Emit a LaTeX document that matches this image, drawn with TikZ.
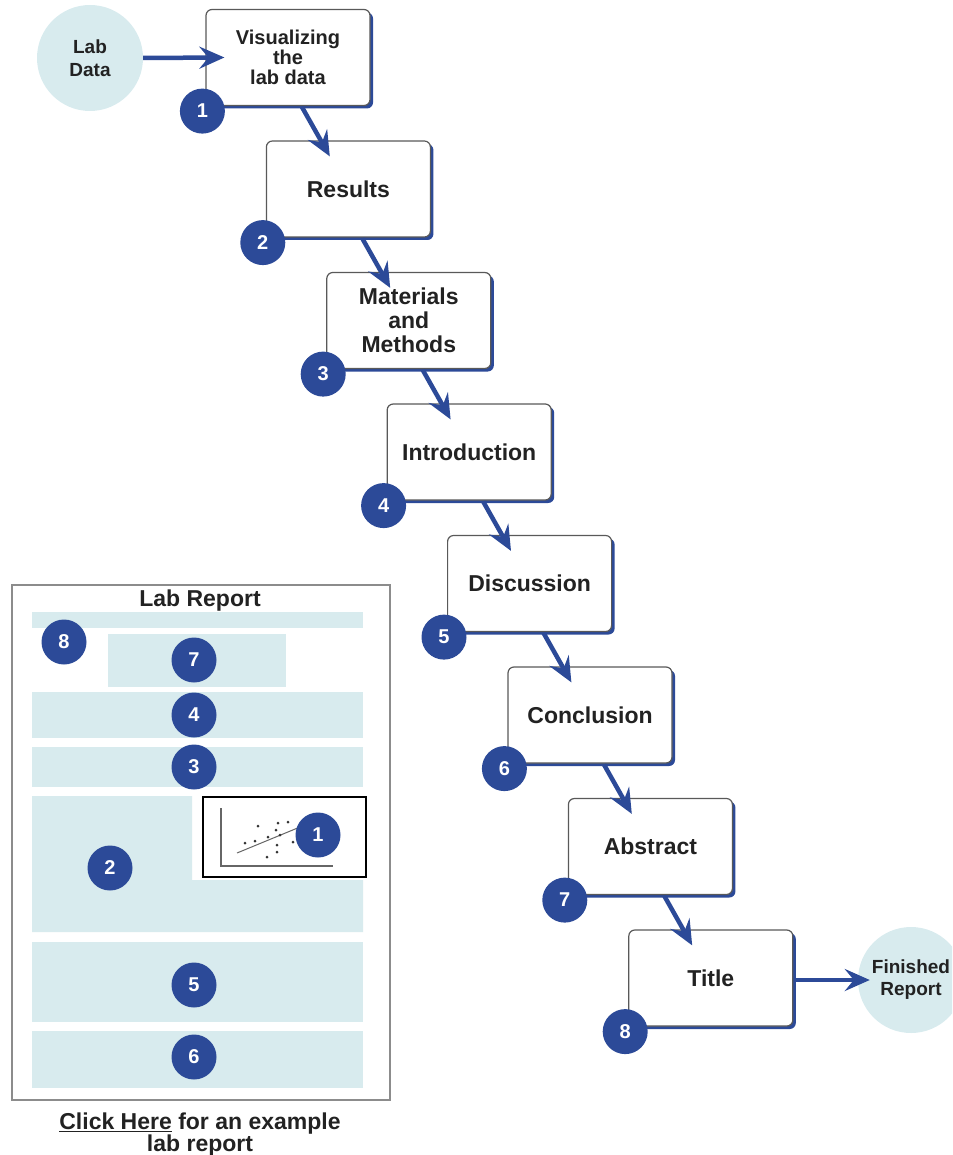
\documentclass[tikz,border=0pt]{standalone}
\usepackage{fontspec}
\setmainfont{Liberation Sans}
\usetikzlibrary{arrows.meta,shadows}
\definecolor{dblue}{HTML}{2C4A98}
\definecolor{lblue}{HTML}{D8EBEE}
\definecolor{ink}{HTML}{222222}
\begin{document}
\begin{tikzpicture}[x=1pt,y=-1pt,
  stepbox/.style={draw=black!65, line width=1.2pt, fill=white, rounded corners=6pt,
    minimum width=164pt, minimum height=96pt, inner sep=0pt, align=center, text=ink,
    font=\fontsize{23}{24}\selectfont\bfseries,
    drop shadow={shadow xshift=3pt, shadow yshift=-3pt, fill=dblue, opacity=1}},
  num/.style={circle, fill=dblue, minimum size=45pt, inner sep=0pt, text=white,
    font=\fontsize{20}{20}\selectfont\bfseries},
  endcircle/.style={circle, fill=lblue, minimum size=106pt, inner sep=0pt, align=center,
    text=ink},
  flow/.style={draw=dblue, line width=4.5pt, -{Stealth[length=25pt,width=22pt,inset=9pt]}},
  block/.style={fill=lblue},
  dot/.style={fill=black!80, inner sep=0pt, minimum size=3pt, circle}
]
\useasboundingbox (0,0) rectangle (952,1155);
\clip (0,0) rectangle (952,1155);

% start / end circles
\node[endcircle, font=\fontsize{19}{23}\selectfont\bfseries] (labdata) at (90,58) {Lab\\Data};
\node[endcircle, font=\fontsize{19}{22}\selectfont\bfseries] (finished) at (911,980) {Finished\\Report};

% step boxes
\node[stepbox, font=\fontsize{20}{20}\selectfont\bfseries] (b1) at (288,57.5) {Visualizing\\the\\lab data};
\node[stepbox] (b2) at (348.4,189) {Results};
\node[stepbox] (b3) at (408.8,320.5) {Materials\\and\\Methods};
\node[stepbox] (b4) at (469.2,452) {Introduction};
\node[stepbox] (b5) at (529.6,583.5) {Discussion};
\node[stepbox] (b6) at (590,715) {Conclusion};
\node[stepbox] (b7) at (650.4,846.5) {Abstract};
\node[stepbox] (b8) at (710.8,978) {Title};

% connectors
\draw[flow] (labdata.east) -- ([xshift=19pt]b1.west);
\draw[flow] ([xshift=14pt,yshift=-1pt]b1.south) -- ([xshift=64pt,yshift=-16pt]b2.north west);
\draw[flow] ([xshift=14pt,yshift=-1pt]b2.south) -- ([xshift=64pt,yshift=-16pt]b3.north west);
\draw[flow] ([xshift=14pt,yshift=-1pt]b3.south) -- ([xshift=64pt,yshift=-16pt]b4.north west);
\draw[flow] ([xshift=14pt,yshift=-1pt]b4.south) -- ([xshift=64pt,yshift=-16pt]b5.north west);
\draw[flow] ([xshift=14pt,yshift=-1pt]b5.south) -- ([xshift=64pt,yshift=-16pt]b6.north west);
\draw[flow] ([xshift=14pt,yshift=-1pt]b6.south) -- ([xshift=64pt,yshift=-16pt]b7.north west);
\draw[flow] ([xshift=14pt,yshift=-1pt]b7.south) -- ([xshift=64pt,yshift=-16pt]b8.north west);
\draw[flow] ([xshift=3pt,yshift=-2pt]b8.east) -- ([xshift=12pt]finished.west);

% step numbers
\node[num] (n1) at ([shift={(-3,5)}]b1.south west) {1};
\node[num] (n2) at ([shift={(-3,5)}]b2.south west) {2};
\node[num] (n3) at ([shift={(-3,5)}]b3.south west) {3};
\node[num] (n4) at ([shift={(-3,5)}]b4.south west) {4};
\node[num] (n5) at ([shift={(-3,5)}]b5.south west) {5};
\node[num] (n6) at ([shift={(-3,5)}]b6.south west) {6};
\node[num] (n7) at ([shift={(-3,5)}]b7.south west) {7};
\node[num] (n8) at ([shift={(-3,5)}]b8.south west) {8};

% lab report panel
\draw[black!45, line width=1.5pt, fill=white] (12,585) rectangle (390,1100);
\node[font=\fontsize{23}{24}\selectfont\bfseries, text=ink] (lrtitle) at (200,601) {Lab Report};
\fill[block] (32,612) rectangle (363,628);
\fill[block] (108,634) rectangle (286,687);
\fill[block] (32,692) rectangle (363,738);
\fill[block] (32,747) rectangle (363,787);
\fill[block] (32,796) -- (192,796) -- (192,880) -- (363,880) -- (363,932) -- (32,932) -- cycle;
\fill[block] (32,942) rectangle (363,1022);
\fill[block] (32,1031) rectangle (363,1088);

% chart inset
\draw[black, line width=2pt, fill=white] (203,797) rectangle (366,877);
\draw[black!60, line width=1.2pt] (221,808) -- (221,866) -- (333,866);
\draw[black!60, line width=1pt] (237,853) -- (300,827);
\foreach \p in {(258,826),(278,823),(288,822),(276,830),(245,843),(255,841),(268,837),(280,835),(277,845),(277,852),(267,857),(293,842)}
  \node[dot] at \p {};

\node[num] (r8) at (64,642) {8};
\node[num] (r7) at (194,660) {7};
\node[num] (r4) at (194,715) {4};
\node[num] (r3) at (194,767) {3};
\node[num] (r2) at (110,868) {2};
\node[num] (r1) at (318,835) {1};
\node[num] (r5) at (194,985) {5};
\node[num] (r6) at (194,1057) {6};

\node[font=\fontsize{23}{22}\selectfont\bfseries, text=ink, align=center] (click) at (200,1135)
  {\underline{Click Here} for an example\\lab report};
\end{tikzpicture}
\end{document}
